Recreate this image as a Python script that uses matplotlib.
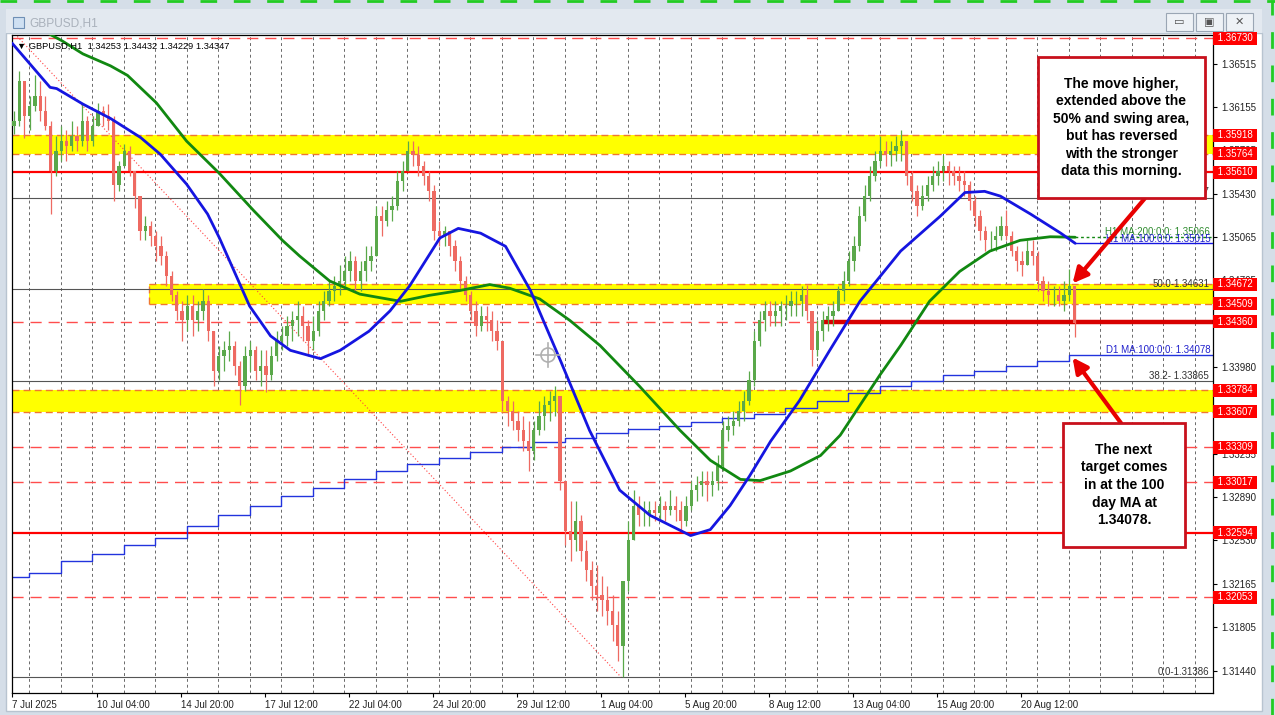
import matplotlib
matplotlib.use('Agg')
import matplotlib.pyplot as plt
from matplotlib.patches import Rectangle, Circle
import matplotlib.transforms as mtransforms
import numpy as np

# ---------------- data ----------------
bars_per_candle = 4
first_open = 1.3600
candle_high = [
 1.3612,1.3646,1.3637,1.3625,1.3642,1.3637,1.3625,1.3604,1.3591,1.3600,
 1.3596,1.3604,1.3600,1.3618,1.3608,1.3608,1.3619,1.3616,1.3618,1.3608,
 1.3570,1.3585,1.3583,1.3562,1.3541,1.3524,1.3520,1.3512,1.3508,1.3495,
 1.3478,1.3462,1.3453,1.3458,1.3458,1.3453,1.3463,1.3458,1.3428,1.3416,
 1.3420,1.3428,1.3420,1.3403,1.3416,1.3420,1.3416,1.3412,1.3412,1.3416,
 1.3428,1.3432,1.3441,1.3445,1.3453,1.3449,1.3437,1.3441,1.3453,1.3462,
 1.3470,1.3474,1.3483,1.3491,1.3495,1.3491,1.3487,1.3499,1.3499,1.3533,
 1.3533,1.3537,1.3541,1.3562,1.3570,1.3587,1.3587,1.3583,1.3570,1.3562,
 1.3550,1.3520,1.3516,1.3512,1.3504,1.3491,1.3474,1.3462,1.3453,1.3449,
 1.3449,1.3445,1.3437,1.3420,1.3374,1.3370,1.3361,1.3357,1.3353,1.3353,
 1.3370,1.3374,1.3378,1.3382,1.3374,1.3303,1.3286,1.3286,1.3274,1.3253,
 1.3236,1.3232,1.3223,1.3215,1.3207,1.3194,1.3203,1.3269,1.3295,1.3290,
 1.3286,1.3286,1.3286,1.3290,1.3286,1.3295,1.3290,1.3286,1.3290,1.3303,
 1.3307,1.3311,1.3311,1.3311,1.3324,1.3353,1.3357,1.3361,1.3370,1.3378,
 1.3395,1.3428,1.3445,1.3453,1.3453,1.3453,1.3453,1.3458,1.3462,1.3462,
 1.3466,1.3467,1.3445,1.3437,1.3445,1.3449,1.3453,1.3466,1.3478,1.3495,
 1.3508,1.3533,1.3550,1.3566,1.3579,1.3591,1.3587,1.3587,1.3591,1.3596,
 1.3587,1.3562,1.3550,1.3550,1.3558,1.3566,1.3570,1.3575,1.3570,1.3566,
 1.3566,1.3562,1.3554,1.3541,1.3529,1.3516,1.3512,1.3516,1.3524,1.3529,
 1.3512,1.3499,1.3495,1.3504,1.3504,1.3495,1.3474,1.3470,1.3466,1.3466,
 1.3470,1.3480,1.3462]
candle_low = [
 1.3593,1.3600,1.3590,1.3596,1.3612,1.3604,1.3596,1.3526,1.3558,1.3570,
 1.3570,1.3579,1.3579,1.3583,1.3579,1.3583,1.3600,1.3600,1.3596,1.3537,
 1.3545,1.3566,1.3558,1.3531,1.3504,1.3504,1.3499,1.3487,1.3483,1.3466,
 1.3453,1.3437,1.3420,1.3428,1.3424,1.3428,1.3437,1.3420,1.3382,1.3387,
 1.3395,1.3403,1.3391,1.3366,1.3378,1.3395,1.3387,1.3382,1.3377,1.3387,
 1.3403,1.3412,1.3416,1.3420,1.3424,1.3420,1.3407,1.3412,1.3424,1.3437,
 1.3449,1.3453,1.3458,1.3466,1.3470,1.3462,1.3462,1.3470,1.3478,1.3491,
 1.3508,1.3516,1.3520,1.3529,1.3545,1.3562,1.3566,1.3558,1.3550,1.3537,
 1.3504,1.3499,1.3499,1.3491,1.3478,1.3462,1.3453,1.3437,1.3424,1.3428,
 1.3428,1.3420,1.3412,1.3361,1.3349,1.3345,1.3336,1.3328,1.3311,1.3320,
 1.3341,1.3345,1.3353,1.3357,1.3295,1.3249,1.3236,1.3244,1.3236,1.3219,
 1.3203,1.3194,1.3190,1.3182,1.3169,1.3152,1.3139,1.3211,1.3253,1.3265,
 1.3265,1.3265,1.3269,1.3269,1.3269,1.3274,1.3269,1.3261,1.3265,1.3278,
 1.3286,1.3290,1.3286,1.3290,1.3295,1.3311,1.3336,1.3341,1.3349,1.3353,
 1.3366,1.3382,1.3416,1.3428,1.3432,1.3432,1.3432,1.3437,1.3441,1.3441,
 1.3441,1.3437,1.3399,1.3407,1.3420,1.3428,1.3432,1.3445,1.3453,1.3466,
 1.3478,1.3495,1.3520,1.3537,1.3554,1.3566,1.3566,1.3566,1.3570,1.3570,
 1.3550,1.3537,1.3524,1.3529,1.3537,1.3545,1.3550,1.3554,1.3550,1.3550,
 1.3545,1.3541,1.3529,1.3516,1.3504,1.3495,1.3495,1.3495,1.3504,1.3504,
 1.3491,1.3478,1.3474,1.3483,1.3483,1.3462,1.3453,1.3449,1.3449,1.3449,
 1.3445,1.3453,1.34229]
candle_close = [
 1.3604,1.3637,1.3608,1.3616,1.3625,1.3612,1.3600,1.3562,1.3579,1.3587,
 1.3583,1.3591,1.3587,1.3604,1.3587,1.3600,1.3612,1.3608,1.3604,1.3550,
 1.3566,1.3579,1.3562,1.3541,1.3512,1.3516,1.3508,1.3499,1.3491,1.3474,
 1.3458,1.3445,1.3437,1.3449,1.3437,1.3445,1.3453,1.3428,1.3395,1.3407,
 1.3412,1.3416,1.3399,1.3382,1.3407,1.3412,1.3395,1.3399,1.3391,1.3407,
 1.3420,1.3424,1.3432,1.3437,1.3441,1.3432,1.3420,1.3428,1.3445,1.3453,
 1.3462,1.3466,1.3470,1.3478,1.3487,1.3470,1.3478,1.3487,1.3491,1.3524,
 1.3520,1.3529,1.3533,1.3554,1.3562,1.3579,1.3575,1.3566,1.3558,1.3545,
 1.3512,1.3508,1.3512,1.3499,1.3487,1.3470,1.3458,1.3445,1.3432,1.3441,
 1.3437,1.3428,1.3420,1.3370,1.3361,1.3353,1.3345,1.3336,1.3328,1.3345,
 1.3357,1.3366,1.3370,1.3374,1.3303,1.3261,1.3253,1.3269,1.3244,1.3228,
 1.3215,1.3207,1.3203,1.3194,1.3182,1.3165,1.3219,1.3253,1.3282,1.3274,
 1.3274,1.3278,1.3276,1.3282,1.3278,1.3282,1.3278,1.3269,1.3282,1.3295,
 1.3299,1.3303,1.3299,1.3303,1.3315,1.3345,1.3349,1.3353,1.3361,1.3370,
 1.3387,1.3420,1.3437,1.3445,1.3441,1.3445,1.3449,1.3449,1.3453,1.3453,
 1.3458,1.3445,1.3412,1.3428,1.3437,1.3441,1.3445,1.3462,1.3470,1.3487,
 1.3499,1.3524,1.3541,1.3558,1.3570,1.3579,1.3575,1.3579,1.3583,1.3587,
 1.3558,1.3545,1.3533,1.3541,1.3550,1.3558,1.3562,1.3566,1.3562,1.3558,
 1.3554,1.3550,1.3537,1.3524,1.3512,1.3504,1.3504,1.3508,1.3516,1.3508,
 1.3495,1.3487,1.3483,1.3495,1.3491,1.3470,1.3462,1.3458,1.3458,1.3453,
 1.3458,1.3466,1.34347]

ma100_bars = [0, 29, 34, 54, 75, 98, 113, 133, 149, 158, 181, 197, 212, 235, 250,
              272, 288, 303, 326, 340, 357, 376, 395, 418, 440, 463, 486, 517, 532,
              547, 562, 578, 600, 623, 646, 677, 707, 726, 741, 753, 776, 799, 810]
ma100_vals = [1.3669, 1.3632, 1.3631, 1.3618, 1.3606, 1.3590, 1.3576, 1.3551, 1.3526, 1.3506,
              1.3449, 1.3424, 1.3412, 1.3405, 1.3412, 1.3428, 1.3445, 1.3466, 1.3506, 1.3514,
              1.3510, 1.3499, 1.3462, 1.3403, 1.3345, 1.3295, 1.3274, 1.3257, 1.3262,
              1.3282, 1.3307, 1.3336, 1.3370, 1.3412, 1.3453, 1.3495, 1.3524, 1.3544, 1.3545,
              1.3541, 1.3526, 1.3510, 1.35015]

ma200_bars = [-10, 21, 38, 54, 75, 88, 110, 133, 158, 184, 206, 219, 242, 265, 296, 318,
              341, 364, 379, 402, 425, 448, 478, 509, 532, 555, 570, 593, 616, 631,
              646, 661, 677, 699, 722, 745, 768, 791, 810]
ma200_vals = [1.3692, 1.3681, 1.3671, 1.3660, 1.3650, 1.3642, 1.3619, 1.3587, 1.3560, 1.3529,
              1.3504, 1.3491, 1.3470, 1.3459, 1.3453, 1.3458, 1.3462, 1.3467, 1.3464, 1.3455,
              1.3437, 1.3416, 1.3382, 1.3345, 1.3320, 1.3304, 1.3303, 1.3311, 1.3324, 1.3341,
              1.3366, 1.3391, 1.3416, 1.3453, 1.3478, 1.3495, 1.3504, 1.3507, 1.35066]

d1_ma100 = [1.3222, 1.3226, 1.3236, 1.3242, 1.3249, 1.3255, 1.3265, 1.3274, 1.3282, 1.3290,
            1.3297, 1.3304, 1.3311, 1.3317, 1.3322, 1.3327, 1.3331, 1.3335, 1.3339, 1.3343,
            1.3346, 1.3349, 1.3352, 1.3355, 1.3359, 1.3364, 1.3370, 1.3376, 1.3382, 1.3386,
            1.3391, 1.3395, 1.3399, 1.3403, 1.34078]

red_solid_levels = [1.35610, 1.32594]
red_dashed_levels = [1.36730, 1.34360, 1.33309, 1.33017, 1.32053]
thick_level = 1.34360
yellow_zones = [(1.35764, 1.35918), (1.34509, 1.34672), (1.33607, 1.33784)]
price_tags = [1.36730, 1.35918, 1.35764, 1.35610, 1.34672, 1.34509, 1.34360,
              1.33784, 1.33607, 1.33309, 1.33017, 1.32594, 1.32053]
fib_vals = [1.31386, 1.33865, 1.34631, 1.35397]
fib_texts = ['0.0-1.31386', '38.2- 1.33865', '50.0-1.34631', '61.8- 1.35397']

y_ticks = [1.36515, 1.36155, 1.35795, 1.35430, 1.35065, 1.34705, 1.34340, 1.33980,
           1.33620, 1.33255, 1.32890, 1.32530, 1.32165, 1.31805, 1.31440]
x_tick_bars = [0, 65, 129, 193, 257, 321, 385, 449, 513, 577, 641, 705, 769]
x_tick_labels = ['7 Jul 2025', '10 Jul 04:00', '14 Jul 20:00', '17 Jul 12:00', '22 Jul 04:00',
                 '24 Jul 20:00', '29 Jul 12:00', '1 Aug 04:00', '5 Aug 20:00', '8 Aug 12:00',
                 '13 Aug 04:00', '15 Aug 20:00', '20 Aug 12:00']

# --------------- layout ---------------
W, H = 1275, 715
fig = plt.figure(figsize=(W / 100, H / 100), dpi=100, facecolor='#d5dee8')
FONT = ['Liberation Sans', 'DejaVu Sans']

def fx(px):
    return px / W

def fy(py):
    return 1 - py / H

# window background (white chart window)
fig.patches.append(Rectangle((fx(6), fy(711)), (1262 - 6) / W, (711 - 33) / H,
                             transform=fig.transFigure, fc='white', ec='#b8c4d0', lw=1, zorder=-5))
# title bar
fig.patches.append(Rectangle((fx(6), fy(33)), (1262 - 6) / W, 24 / H,
                             transform=fig.transFigure, fc='#e3e9f0', ec='none', zorder=-5))
fig.text(fx(29), fy(23), 'GBPUSD,H1', fontsize=8.6, color='#a9b1bb', va='center', ha='left', family=FONT)
fig.patches.append(Rectangle((fx(13), fy(28)), 11 / W, 11 / H, transform=fig.transFigure,
                             fc='#cfe0f2', ec='#6f8fb5', lw=0.8, zorder=1))
for bx in [1166, 1196, 1226]:
    fig.patches.append(Rectangle((fx(bx), fy(31)), 27 / W, 18 / H, transform=fig.transFigure,
                                 fc='#eef2f6', ec='#9aa6b4', lw=0.8, zorder=1))
fig.text(fx(1179.5), fy(22), '▭', fontsize=8, ha='center', va='center', color='#555555', family=FONT)
fig.text(fx(1209.5), fy(22), '▣', fontsize=8, ha='center', va='center', color='#555555', family=FONT)
fig.text(fx(1239.5), fy(22), '✕', fontsize=8, ha='center', va='center', color='#555555', family=FONT)
# green dashed edges (neighbouring window)
fig.lines.append(plt.Line2D([0, 1], [fy(1), fy(1)], transform=fig.transFigure, color='#22cc22',
                            lw=2, linestyle=(0, (6, 6))))
fig.lines.append(plt.Line2D([fx(1272), fx(1272)], [0, 1], transform=fig.transFigure, color='#22cc22',
                            lw=2, linestyle=(0, (6, 6))))

L, R, T, B = 11.7, 1213, 35, 693
ax = fig.add_axes([fx(L), fy(B), (R - L) / W, (B - T) / H])
ax.set_zorder(2)
ax.set_facecolor('white')
xmin, xmax = -0.25, 915.0
ymin, ymax = 1.31253, 1.36758
ax.set_xlim(xmin, xmax)
ax.set_ylim(ymin, ymax)
for s in ax.spines.values():
    s.set_color('#000000')
    s.set_linewidth(0.9)

# daily dotted grid
for gx in range(13, 915, 24):
    ax.axvline(gx, color='#6a6a6a', lw=0.7, linestyle=(0, (3, 3)), zorder=0.5)

# yellow zones
zone_start = [xmin, 104, xmin]
for (lo, hi), xs in zip(yellow_zones, zone_start):
    ax.fill_between([xs, xmax], lo, hi, color='#ffff00', lw=0, zorder=1)
    ax.hlines([lo, hi], xs, xmax, colors='#f07830', lw=1.0, linestyles=(0, (5, 3)), zorder=1.2)
ax.vlines(104, yellow_zones[1][0], yellow_zones[1][1], colors='#f07830', lw=1.0,
          linestyles=(0, (5, 3)), zorder=1.2)

# fib lines and diagonal
for v in fib_vals:
    ax.axhline(v, color='#555555', lw=0.8, zorder=1.3)
ax.plot([-93, 464], [1.37876, fib_vals[0]], color='#ff4040', lw=0.8, linestyle=(0, (1, 2)), zorder=1.3)

# levels
for v in red_dashed_levels:
    ax.axhline(v, color='#ff4d4d', lw=1.0, linestyle=(0, (8, 5)), zorder=1.4)
for v in red_solid_levels:
    ax.axhline(v, color='#ff0000', lw=1.6, zorder=1.4)
ax.hlines(thick_level, 618, xmax, colors='#d80000', lw=3.2, zorder=1.5)

# D1 MA staircase
day_starts = [0] + list(range(13, 13 + 24 * (len(d1_ma100) - 1), 24))
ax.step(day_starts + [xmax], d1_ma100 + [d1_ma100[-1]], where='post', color='#2233dd', lw=1.0, zorder=2)

# candles
n = len(candle_close)
opens = [first_open] + candle_close[:-1]
xc = np.arange(n) * bars_per_candle + 1.5
up = np.array(candle_close) >= np.array(opens)
cols = np.where(up, '#5aa84a', '#ee6a62')
ax.vlines(xc, candle_low, candle_high, colors=cols, lw=0.9, zorder=3)
bottoms = np.minimum(opens, candle_close)
heights = np.maximum(np.abs(np.array(candle_close) - np.array(opens)), 0.00004)
ax.bar(xc, heights, bottom=bottoms, width=2.4, color=cols, lw=0, zorder=3)

# H1 MAs
ax.plot(ma200_bars, ma200_vals, color='#118811', lw=2.0, zorder=4, solid_capstyle='round')
ax.plot(ma100_bars, ma100_vals, color='#1515e0', lw=2.0, zorder=4, solid_capstyle='round')
ax.hlines(ma100_vals[-1], ma100_bars[-1], xmax, colors='#1515e0', lw=1.0, zorder=4)
ax.hlines(ma200_vals[-1], ma200_bars[-1], xmax, colors='#118811', lw=1.0, linestyles=(0, (2, 2)), zorder=4)

# small labels
ax.text(913, ma200_vals[-1] + 0.00002, 'H1 MA:200:0:0: 1.35066', ha='right', va='bottom',
        fontsize=7, color='#2e8b2e', family=FONT, zorder=5)
ax.text(913, ma100_vals[-1] - 0.00003, 'H1 MA:100:0:0: 1.35015', ha='right', va='bottom',
        fontsize=7, color='#2020cc', family=FONT, zorder=5)
ax.text(913, d1_ma100[-1] + 0.00002, 'D1 MA:100:0:0: 1.34078', ha='right', va='bottom',
        fontsize=7, color='#2020cc', family=FONT, zorder=5)
for v, t in zip(fib_vals, fib_texts):
    ax.text(912, v + 0.00002, t, ha='right', va='bottom', fontsize=7, color='#333333',
            family=FONT, zorder=5)

ax.text(0.004, 0.99, '▼ GBPUSD,H1  1.34253 1.34432 1.34229 1.34347', transform=ax.transAxes,
        ha='left', va='top', fontsize=6.7, color='#000000', family=FONT, zorder=6)

# crosshair icon
cx, cy = fx(548), fy(355)
fig.patches.append(Circle((548, H - 355), 7, transform=None, fc='none', ec='#b0b0b0', lw=1.2, zorder=5))
fig.lines.append(plt.Line2D([fx(536), fx(560)], [cy, cy], transform=fig.transFigure, color='#b0b0b0', lw=1.2, zorder=5))
fig.lines.append(plt.Line2D([cx, cx], [fy(343), fy(367)], transform=fig.transFigure, color='#b0b0b0', lw=1.2, zorder=5))

# ticks
ax.yaxis.tick_right()
ax.set_yticks(y_ticks)
ax.set_yticklabels([f'{v:.5f}' for v in y_ticks], fontsize=7, family=FONT, color='#222222')
ax.tick_params(axis='y', direction='out', length=3, width=0.8, pad=3, color='#000000')
ax.set_xticks(x_tick_bars)
ax.set_xticklabels(x_tick_labels, fontsize=7, family=FONT, color='#222222', ha='left')
ax.tick_params(axis='x', direction='out', length=3, width=0.8, pad=2, color='#000000')

# red price tags on the right axis
trans = mtransforms.blended_transform_factory(ax.transAxes, ax.transData)
for v in price_tags:
    ax.text(1.0015, v, f' {v:.5f} ', transform=trans, ha='left', va='center', fontsize=7,
            color='white', family=FONT, clip_on=False, zorder=6,
            bbox=dict(boxstyle='square,pad=0.15', fc='#ff0000', ec='none'))

# annotation boxes
def box(x0, y0, x1, y1, text):
    ax.add_patch(Rectangle(((x0 - L) / (R - L), (B - y1) / (B - T)), (x1 - x0) / (R - L),
                           (y1 - y0) / (B - T), transform=ax.transAxes, fc='white',
                           ec='#c8101c', lw=2.0, zorder=10))
    ax.text(((x0 + x1) / 2 - L) / (R - L), (B - (y0 + y1) / 2) / (B - T), text,
            transform=ax.transAxes, ha='center', va='center', fontsize=10, fontweight='bold',
            family=FONT, color='black', linespacing=1.32, zorder=11)

box(1038, 57, 1205, 198, 'The move higher,\nextended above the\n50% and swing area,\nbut has reversed\nwith the stronger\ndata this morning.')
box(1063, 423, 1185, 547, 'The next\ntarget comes\nin at the 100\nday MA at\n1.34078.')

arrow_kw = dict(arrowstyle='-|>,head_width=0.45,head_length=0.9', color='#e80000', lw=3,
                shrinkA=0, shrinkB=0)
ax.annotate('', xy=(808, 1.3468), xytext=(863, 1.3539), arrowprops=arrow_kw, zorder=9)
ax.annotate('', xy=(808, 1.3406), xytext=(845, 1.3351), arrowprops=arrow_kw, zorder=9)

fig.savefig('out.png', dpi=100, facecolor=fig.get_facecolor())
